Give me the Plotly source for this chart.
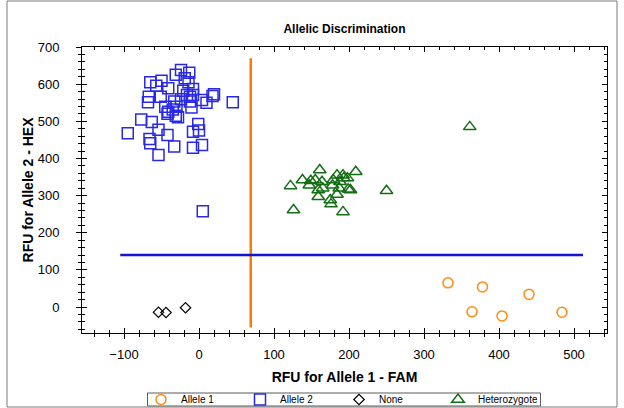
import plotly.graph_objects as go

# ---- data ----
allele1_fam = [332, 378, 440, 364, 404, 484]
allele1_hex = [65, 54, 34, -13, -24, -14]

allele2_fam = [-24, -13, -31, -19, -14, -65, -50, -57, -41, -21, -8, -67, -68, -51, -16, -12, -8, -12,
               -10, -24, -33, 4, 10, 18, 20, 45, -45, -35, -30, -41, -42, -31, -28, -77, -63, -1,
               -54, -8, 0, -95, -42, -66, -65, -33, -8, 4, -54, 5]
allele2_hex = [638, 631, 625, 616, 605, 605, 609, 596, 589, 582, 587, 566, 551, 566, 571, 566, 571, 553,
               537, 559, 553, 557, 550, 568, 573, 551, 539, 532, 539, 526, 520, 515, 511, 505, 498, 493,
               477, 472, 475, 468, 463, 452, 441, 432, 429, 436, 409, 258]

none_fam = [-54, -44, -18]
none_hex = [-14, -15, -2]

het_fam = [161, 122, 138, 149, 147, 155, 159, 159, 164, 165, 179, 178, 184, 188, 192, 193, 198, 187,
           184, 199, 202, 209, 175, 176, 126, 192, 250, 361]
het_hex = [369, 326, 342, 340, 328, 342, 315, 297, 337, 320, 342, 328, 355, 337, 355, 347, 347, 320,
           303, 317, 315, 364, 288, 277, 261, 256, 313, 485]

fam_threshold = 69
fam_line_hex = [-55, 670]
hex_threshold = 140
hex_line_fam = [-105, 512]

x_range = [-156, 544]
y_range = [-70, 700]

FONT = "Liberation Sans, Arial, sans-serif"

# plot-area geometry in pixels (used to convert page positions to paper fractions)
L, R, T, B, W, H = 82, 17, 47, 75, 624, 408
PW, PH = W - L - R, H - T - B


def px_x(px):
    return (px - L) / PW


def px_y(py):
    return (H - B - py) / PH


fig = go.Figure()

fig.add_trace(go.Scatter(x=allele1_fam, y=allele1_hex, mode="markers", name="Allele 1",
                         marker=dict(symbol="circle-open", size=10, color="rgb(255,140,20)",
                                     line=dict(width=1.5))))
fig.add_trace(go.Scatter(x=allele2_fam, y=allele2_hex, mode="markers", name="Allele 2",
                         marker=dict(symbol="square-open", size=11, color="rgb(40,40,230)",
                                     line=dict(width=1.5))))
fig.add_trace(go.Scatter(x=none_fam, y=none_hex, mode="markers", name="None",
                         marker=dict(symbol="diamond-open", size=8, color="black",
                                     line=dict(width=1.2))))
fig.add_trace(go.Scatter(x=het_fam, y=het_hex, mode="markers", name="Heterozygote",
                         marker=dict(symbol="triangle-up-open", size=11, color="rgb(20,110,20)",
                                     line=dict(width=1.5))))

fig.add_trace(go.Scatter(x=[fam_threshold, fam_threshold], y=fam_line_hex, mode="lines",
                         line=dict(color="rgb(255,120,0)", width=2.5), showlegend=False, hoverinfo="skip"))
fig.add_trace(go.Scatter(x=hex_line_fam, y=[hex_threshold, hex_threshold], mode="lines",
                         line=dict(color="rgb(20,20,210)", width=2.5), showlegend=False, hoverinfo="skip"))

# invisible trace to activate overlay axes (inner ticks)
fig.add_trace(go.Scatter(x=[x_range[0]], y=[y_range[0]], xaxis="x2", yaxis="y2", mode="markers",
                         marker=dict(opacity=0), showlegend=False, hoverinfo="skip"))

axis_common = dict(showgrid=False, zeroline=False, linecolor="black", linewidth=1, automargin=False,
                   tickcolor="black", tickwidth=1, tickfont=dict(family=FONT, size=13, color="black"))

fig.update_layout(
    width=W, height=H,
    margin=dict(l=L, r=R, t=T, b=B, autoexpand=False),
    paper_bgcolor="white", plot_bgcolor="white",
    font=dict(family=FONT, color="black"),
    title=dict(text="<b>Allelic Discrimination</b>", x=0.552, xanchor="center", y=0.93, yanchor="middle",
               font=dict(size=12, family=FONT, color="black")),
    xaxis=dict(range=x_range, dtick=100, tick0=0, ticks="outside", ticklen=5, mirror=True,
               showline=True, ticklabelstandoff=4,
               minor=dict(dtick=20, tick0=0, ticks="outside", ticklen=3, tickcolor="black"),
               title=dict(text="<b>RFU for Allele 1 - FAM</b>", font=dict(size=14, family=FONT), standoff=11),
               **axis_common),
    yaxis=dict(range=y_range, dtick=100, tick0=0, ticks="outside", ticklen=5, mirror=True,
               showline=True, ticklabelstandoff=14,
               minor=dict(dtick=20, tick0=0, ticks="outside", ticklen=3, tickcolor="black"),
               title=dict(text="<b>RFU for Allele 2 - HEX</b>", font=dict(size=14, family=FONT), standoff=0),
               **axis_common),
    xaxis2=dict(overlaying="x", matches="x", range=x_range, dtick=100, tick0=0, ticks="inside",
                ticklen=5, mirror="ticks", showline=False, showticklabels=False, showgrid=False,
                zeroline=False, tickcolor="black", automargin=False,
                minor=dict(dtick=20, tick0=0, ticks="inside", ticklen=3, tickcolor="black")),
    yaxis2=dict(overlaying="y", matches="y", range=y_range, dtick=100, tick0=0, ticks="inside",
                ticklen=5, mirror="ticks", showline=False, showticklabels=False, showgrid=False,
                zeroline=False, tickcolor="black", automargin=False,
                minor=dict(dtick=20, tick0=0, ticks="inside", ticklen=3, tickcolor="black")),
    legend=dict(orientation="h", x=px_x(141), xanchor="left", y=px_y(399.5), yanchor="middle",
                bgcolor="rgba(0,0,0,0)", borderwidth=0, font=dict(size=10, family=FONT),
                entrywidth=54, entrywidthmode="pixels", itemwidth=30, tracegroupgap=0),
    showlegend=True,
)

# legend frame (compact, like the reference)
fig.add_shape(type="rect", xref="paper", yref="paper",
              x0=px_x(147.5), x1=px_x(540.5), y0=px_y(406), y1=px_y(393),
              line=dict(color="rgb(90,90,90)", width=1), fillcolor="rgba(0,0,0,0)", layer="below")

# outer frame around the whole chart
fig.add_shape(type="rect", xref="paper", yref="paper",
              x0=px_x(7), x1=px_x(617), y0=px_y(407), y1=px_y(1),
              line=dict(color="rgb(120,120,120)", width=1), fillcolor="rgba(0,0,0,0)", layer="below")

fig.write_html("out.html", config={"displayModeBar": False},
               post_script="document.body.style.margin='0';document.body.style.overflow='hidden';")
